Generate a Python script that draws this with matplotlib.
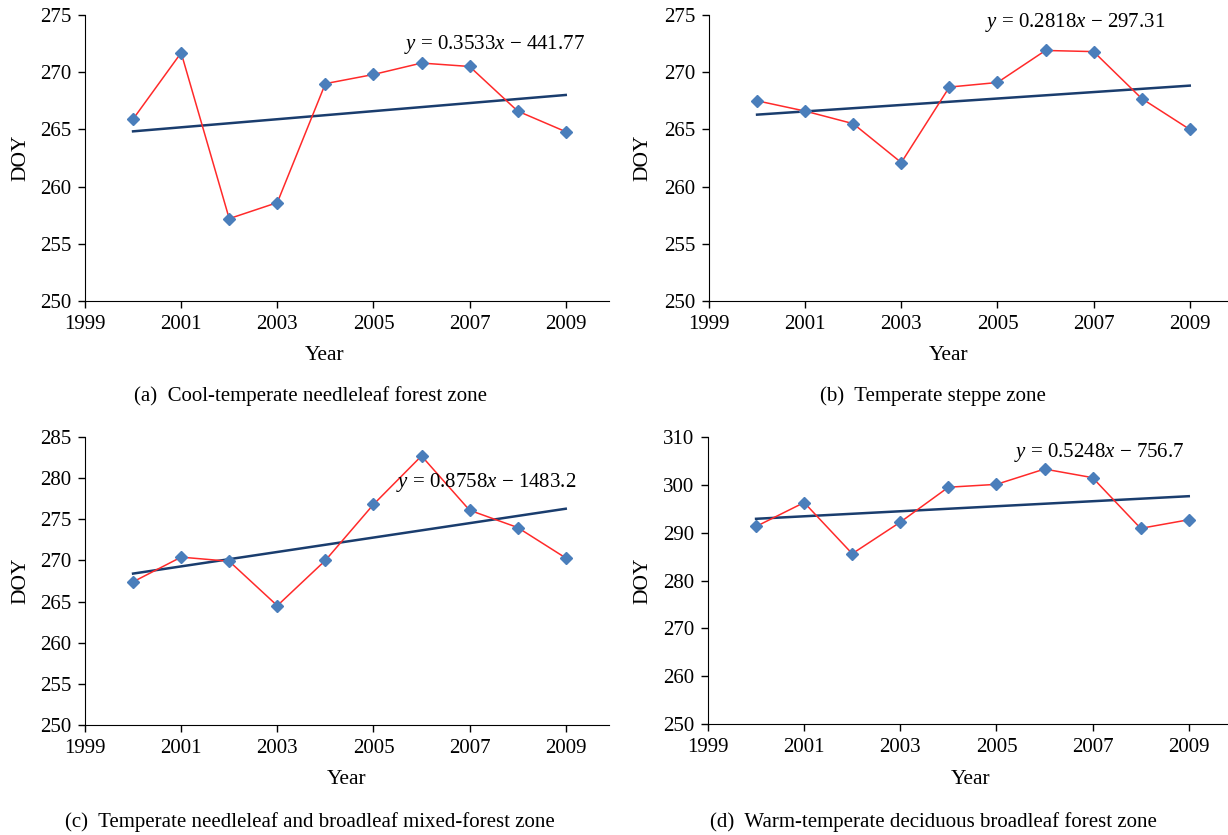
import numpy as np
import matplotlib
matplotlib.use("Agg")
import matplotlib.pyplot as plt

plt.rcParams['font.family'] = ['Liberation Serif', 'DejaVu Serif']
plt.rcParams['mathtext.fontset'] = 'custom'
plt.rcParams['mathtext.rm'] = 'Liberation Serif'
plt.rcParams['mathtext.it'] = 'Liberation Serif:italic'

years = [2000, 2001, 2002, 2003, 2004, 2005, 2006, 2007, 2008, 2009]

doy_a = [265.9, 271.7, 257.2, 258.6, 269.0, 269.8, 270.8, 270.5, 266.6, 264.8]
doy_b = [267.5, 266.6, 265.5, 262.1, 268.7, 269.1, 271.9, 271.8, 267.7, 265.0]
doy_c = [267.4, 270.4, 269.9, 264.5, 270.0, 276.8, 282.7, 276.1, 274.0, 270.3]
doy_d = [291.3, 296.3, 285.6, 292.2, 299.5, 300.1, 303.3, 301.5, 290.9, 292.7]

slopes = [0.3533, 0.2818, 0.8758, 0.5248]
intercepts = [-441.77, -297.31, -1483.2, -756.7]
eq_labels = ["0.3533", "0.2818", "0.8758", "0.5248"]
eq_consts = ["441.77", "297.31", "1483.2", "756.7"]

captions = ["(a)  Cool-temperate needleleaf forest zone",
            "(b)  Temperate steppe zone",
            "(c)  Temperate needleleaf and broadleaf mixed-forest zone",
            "(d)  Warm-temperate deciduous broadleaf forest zone"]

y_ranges = [(250, 275, 5), (250, 275, 5), (250, 285, 5), (250, 310, 10)]
x_ticks = [1999, 2001, 2003, 2005, 2007, 2009]

W, H = 1228, 835
fig = plt.figure(figsize=(W / 100, H / 100), dpi=100)

# pixel layout: left, top, bottom of each axes
boxes = [(85, 15, 301), (709, 15, 301), (85, 437, 725), (708, 437, 724)]
axw = 524
eq_pos = [(404, 45), (985, 22), (396, 482), (1014, 453)]
year_pos = [(325, 356), (949, 356), (347, 780), (971, 780)]
doy_x = [21, 643, 21, 643]
cap_pos = [(310, 396), (933, 396), (310, 822), (933, 822)]

series = [doy_a, doy_b, doy_c, doy_d]

for i in range(4):
    l, t, b = boxes[i]
    ax = fig.add_axes([l / W, 1 - b / H, axw / W, (b - t) / H])
    ax.plot(years, series[i], color='#ff2a2a', linewidth=1.1, zorder=2)
    ax.plot(years, series[i], linestyle='none', marker='D', markersize=6.5,
            color='#4a7ebb', zorder=3)
    yr = np.array([years[0], years[-1]])
    ax.plot(yr, slopes[i] * yr + intercepts[i], color='#1a3d6e', linewidth=1.8, zorder=1)

    lo, hi, st = y_ranges[i]
    ax.set_ylim(lo, hi)
    ax.set_yticks(np.arange(lo, hi + 1, st))
    ax.set_xlim(1999, 2009.9)
    ax.set_xticks(x_ticks)
    ax.spines['top'].set_visible(False)
    ax.spines['right'].set_visible(False)
    ax.tick_params(direction='out', length=5, width=1, labelsize=15)
    ax.tick_params(axis='x', pad=5)
    ax.tick_params(axis='y', pad=5)

    fig.text(eq_pos[i][0] / W, 1 - eq_pos[i][1] / H,
             "$y$ = " + eq_labels[i] + "$x$ \u2212 " + eq_consts[i],
             fontsize=15, ha='left', va='center')
    fig.text(year_pos[i][0] / W, 1 - year_pos[i][1] / H, "Year",
             fontsize=15.5, ha='center', va='center')
    fig.text(doy_x[i] / W, 1 - (t + b) / 2 / H, "DOY", rotation=90,
             fontsize=15.5, ha='center', va='center')
    fig.text(cap_pos[i][0] / W, 1 - cap_pos[i][1] / H, captions[i],
             fontsize=15, ha='center', va='center')

fig.savefig("out.png", dpi=100)
